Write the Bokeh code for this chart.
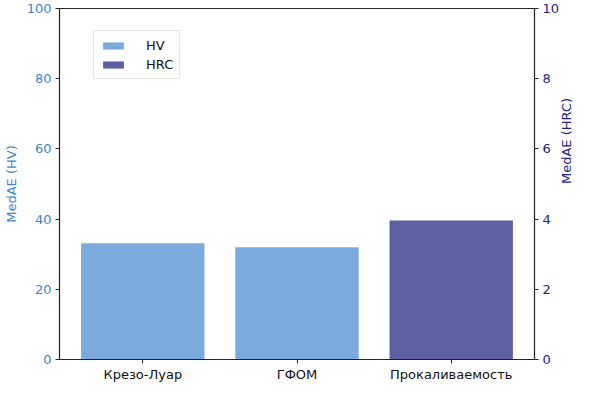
import math
from bokeh.plotting import figure
from bokeh.models import Range1d, FactorRange, LinearAxis, Legend, LegendItem, ColumnDataSource, FixedTicker
from bokeh.embed import file_html
from bokeh.resources import INLINE

categories = ["Крезо-Луар", "ГФОМ", "Прокаливаемость"]
hv_categories = ["Крезо-Луар", "ГФОМ"]
hv_values = [33.1, 32.0]
hrc_categories = ["Прокаливаемость"]
hrc_values = [3.96]
left_ticks = [0, 20, 40, 60, 80, 100]
right_ticks = [0, 2, 4, 6, 8, 10]

HV_COLOR = "#7BAADC"
HRC_COLOR = "#5D5FA3"
LEFT_TEXT = "#3A86D0"
RIGHT_TEXT = "#1E1E8C"
FONT = "DejaVu Sans"

p = figure(width=584, height=384, output_backend="svg", toolbar_location=None,
           x_range=FactorRange(*categories, range_padding=0.08 / 3),
           y_range=Range1d(0, 100),
           min_border_left=0, min_border_right=0, min_border_top=8, min_border_bottom=0)
p.extra_y_ranges = {"hrc": Range1d(0, 10)}
p.grid.visible = False
p.outline_line_color = "#222222"
p.outline_line_width = 1.2

hv_src = ColumnDataSource(dict(x=hv_categories, top=hv_values))
hrc_src = ColumnDataSource(dict(x=hrc_categories, top=hrc_values))
r_hv = p.vbar(x="x", top="top", width=0.8, source=hv_src, fill_color=HV_COLOR, line_color=None)
r_hrc = p.vbar(x="x", top="top", width=0.8, source=hrc_src, fill_color=HRC_COLOR, line_color=None,
               y_range_name="hrc")

# axes styling
xa = p.xaxis[0]
xa.axis_line_color = "#222222"
xa.major_tick_line_color = "#222222"
xa.major_tick_out = 4
xa.major_tick_in = 0
xa.minor_tick_line_color = None
xa.major_label_text_font = FONT
xa.major_label_text_font_size = "13px"
xa.major_label_text_color = "#111111"
xa.major_label_standoff = 3
xa.axis_label_standoff = 0

ya = p.yaxis[0]
ya.ticker = FixedTicker(ticks=left_ticks)
ya.axis_line_color = "#222222"
ya.major_tick_line_color = "#222222"
ya.major_tick_out = 4
ya.major_tick_in = 0
ya.minor_tick_line_color = None
ya.major_label_text_font = FONT
ya.major_label_text_font_size = "13px"
ya.major_label_text_color = LEFT_TEXT
ya.major_label_standoff = 4
ya.axis_label = "MedAE (HV)"
ya.axis_label_text_font = FONT
ya.axis_label_text_font_size = "13px"
ya.axis_label_text_font_style = "normal"
ya.axis_label_text_color = LEFT_TEXT
ya.axis_label_standoff = 5

ra = LinearAxis(y_range_name="hrc", ticker=FixedTicker(ticks=right_ticks))
ra.axis_line_color = "#222222"
ra.major_tick_line_color = "#222222"
ra.major_tick_out = 4
ra.major_tick_in = 0
ra.minor_tick_line_color = None
ra.major_label_text_font = FONT
ra.major_label_text_font_size = "13px"
ra.major_label_text_color = RIGHT_TEXT
ra.major_label_standoff = 4
ra.axis_label = "MedAE (HRC)"
ra.axis_label_text_font = FONT
ra.axis_label_text_font_size = "13px"
ra.axis_label_text_font_style = "normal"
ra.axis_label_text_color = RIGHT_TEXT
ra.axis_label_standoff = 4
ra.axis_label_orientation = math.pi / 2
p.add_layout(ra, "right")

legend = Legend(items=[LegendItem(label="HV", renderers=[r_hv]),
                       LegendItem(label="HRC", renderers=[r_hrc])],
                location=(34, 280))
legend.label_text_font = FONT
legend.label_text_font_size = "13px"
legend.label_text_color = "#111111"
legend.glyph_width = 26
legend.glyph_height = 9
legend.label_standoff = 20
legend.label_height = 16
legend.spacing = 3
legend.padding = 6
legend.border_line_color = "#cccccc"
legend.border_line_width = 1
legend.background_fill_alpha = 0.9
p.add_layout(legend)

open("out.html", "w").write(file_html(p, INLINE))
